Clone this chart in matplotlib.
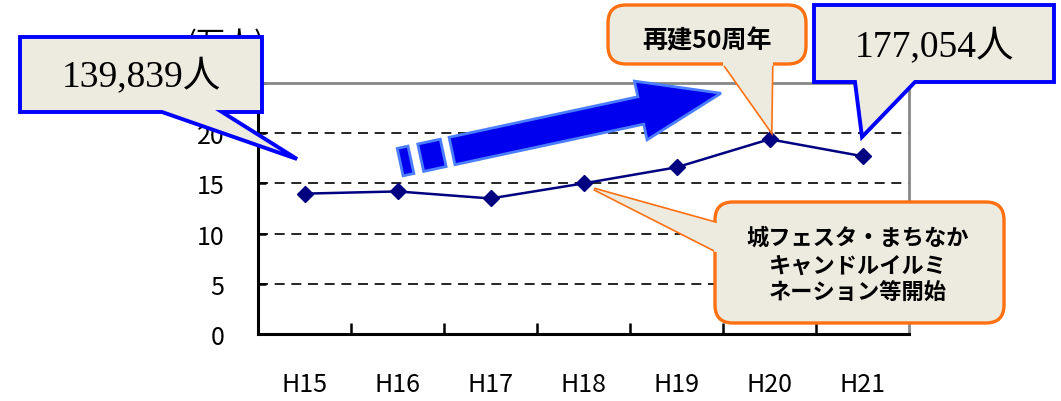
import matplotlib
matplotlib.use("Agg")
import matplotlib.pyplot as plt
from matplotlib.patches import Polygon, FancyBboxPatch, FancyArrow

plt.rcParams["font.family"] = ["Noto Sans CJK JP", "DejaVu Sans"]

years = ["H15", "H16", "H17", "H18", "H19", "H20", "H21"]
visitors = [13.98, 14.2, 13.5, 15.0, 16.6, 19.4, 17.71]
y_ticks = [0, 5, 10, 15, 20, 25]
y_labels = ["0", "5", "10", "15", "20", ""]

W, H = 1061, 402
fig = plt.figure(figsize=(W / 100, H / 100), dpi=100)

ax = fig.add_axes([258 / W, 1 - 335 / H, 651 / W, 251 / H])
x = list(range(len(years)))
ax.plot(x, visitors, color="#000080", lw=1.8, marker="D", markersize=8, zorder=3)
ax.set_xlim(-0.5, len(years) - 0.5)
ax.set_ylim(0, 25)
ax.set_yticks(y_ticks)
ax.set_yticklabels(y_labels)
ax.set_xticks(x)
ax.set_xticklabels(years)
ax.set_xticks([i + 0.5 for i in x[:-1]], minor=True)
for v in y_ticks[1:-1]:
    ax.axhline(v, color="black", lw=1.2, ls=(0, (6, 4)), zorder=1)

ax.tick_params(axis="x", which="major", length=0, pad=27, labelsize=18)
ax.tick_params(axis="x", which="minor", direction="in", length=8, width=1.8)
ax.tick_params(axis="y", direction="in", length=6, width=1.8, pad=24, labelsize=18)
for s in ["left", "bottom"]:
    ax.spines[s].set_color("black")
    ax.spines[s].set_linewidth(2.2)
for s in ["top", "right"]:
    ax.spines[s].set_color("#888888")
    ax.spines[s].set_linewidth(2)

fig.text(225 / W, 1 - 44 / H, "(万人)", fontsize=21, ha="center", va="center")

# overlay in pixel coordinates for callouts and arrow
ov = fig.add_axes([0, 0, 1, 1], zorder=5)
ov.set_xlim(0, W)
ov.set_ylim(H, 0)
ov.axis("off")
ov.patch.set_alpha(0)

fill = "#EDEBE0"
blue = "#0000FF"
orange = "#FF7010"

# rectangular callouts
def rect_callout(x0, y0, x1, y1, t0, t1, tip):
    pts = [(x0, y0), (x1, y0), (x1, y1), (t1, y1), tip, (t0, y1), (x0, y1)]
    ov.add_patch(Polygon(pts, closed=True, fc=fill, ec=blue, lw=2.8))

rect_callout(20, 38, 262, 113, 162, 222, (297, 160))
ov.text(141, 77, "139,839人", fontsize=27, ha="center", va="center",
        family=["Liberation Serif", "Noto Sans CJK JP"])
rect_callout(814, 6, 1054, 83, 855, 915, (862, 138))
ov.text(934, 47, "177,054人", fontsize=27, ha="center", va="center",
        family=["Liberation Serif", "Noto Sans CJK JP"])

# rounded callouts
def round_callout(x0, y0, x1, y1, tail, tip):
    ov.add_patch(FancyBboxPatch((x0, y0), x1 - x0, y1 - y0,
                                boxstyle="round,pad=0,rounding_size=18",
                                fc=fill, ec=orange, lw=2.4))
    ov.add_patch(Polygon([tail[0], tip, tail[1]], closed=False, fc=fill, ec=orange, lw=2.4))
    ov.add_patch(Polygon([tail[0], tip, tail[1]], closed=True, fc=fill, ec="none", lw=0))

round_callout(608, 6, 806, 65, [(723, 64), (772, 64)], (771, 132))
ov.plot([725, 770], [64, 64], color=fill, lw=3.5)
ov.text(707, 41, "再建50周年", fontsize=18, ha="center", va="center", weight="bold")

round_callout(715, 203, 1004, 324, [(716, 224), (716, 252)], (594, 190))
ov.plot([716, 716], [226, 250], color=fill, lw=3.5)
ov.text(858, 266, "城フェスタ・まちなか\nキャンドルイルミ\nネーション等開始",
        fontsize=16, ha="center", va="center", weight="bold", linespacing=1.25)

# big arrow with dashes
ux, uy = 0.978, -0.210
sx, sy = 452, 152
ov.add_patch(FancyArrow(sx, sy, 275 * ux, 275 * uy, width=28, head_width=60,
                        head_length=82, length_includes_head=True,
                        fc="#0000EE", ec="#4A7DFF", lw=2))
nx, ny = -uy, ux
for a, b in [(-53, -42), (-32, -9)]:
    pts = []
    for t, s in [(a, -14), (b, -14), (b, 14), (a, 14)]:
        pts.append((sx + t * ux + s * nx, sy + t * uy + s * ny))
    ov.add_patch(Polygon(pts, closed=True, fc="#0000EE", ec="#4A7DFF", lw=2))

fig.savefig("out.png", dpi=100)
